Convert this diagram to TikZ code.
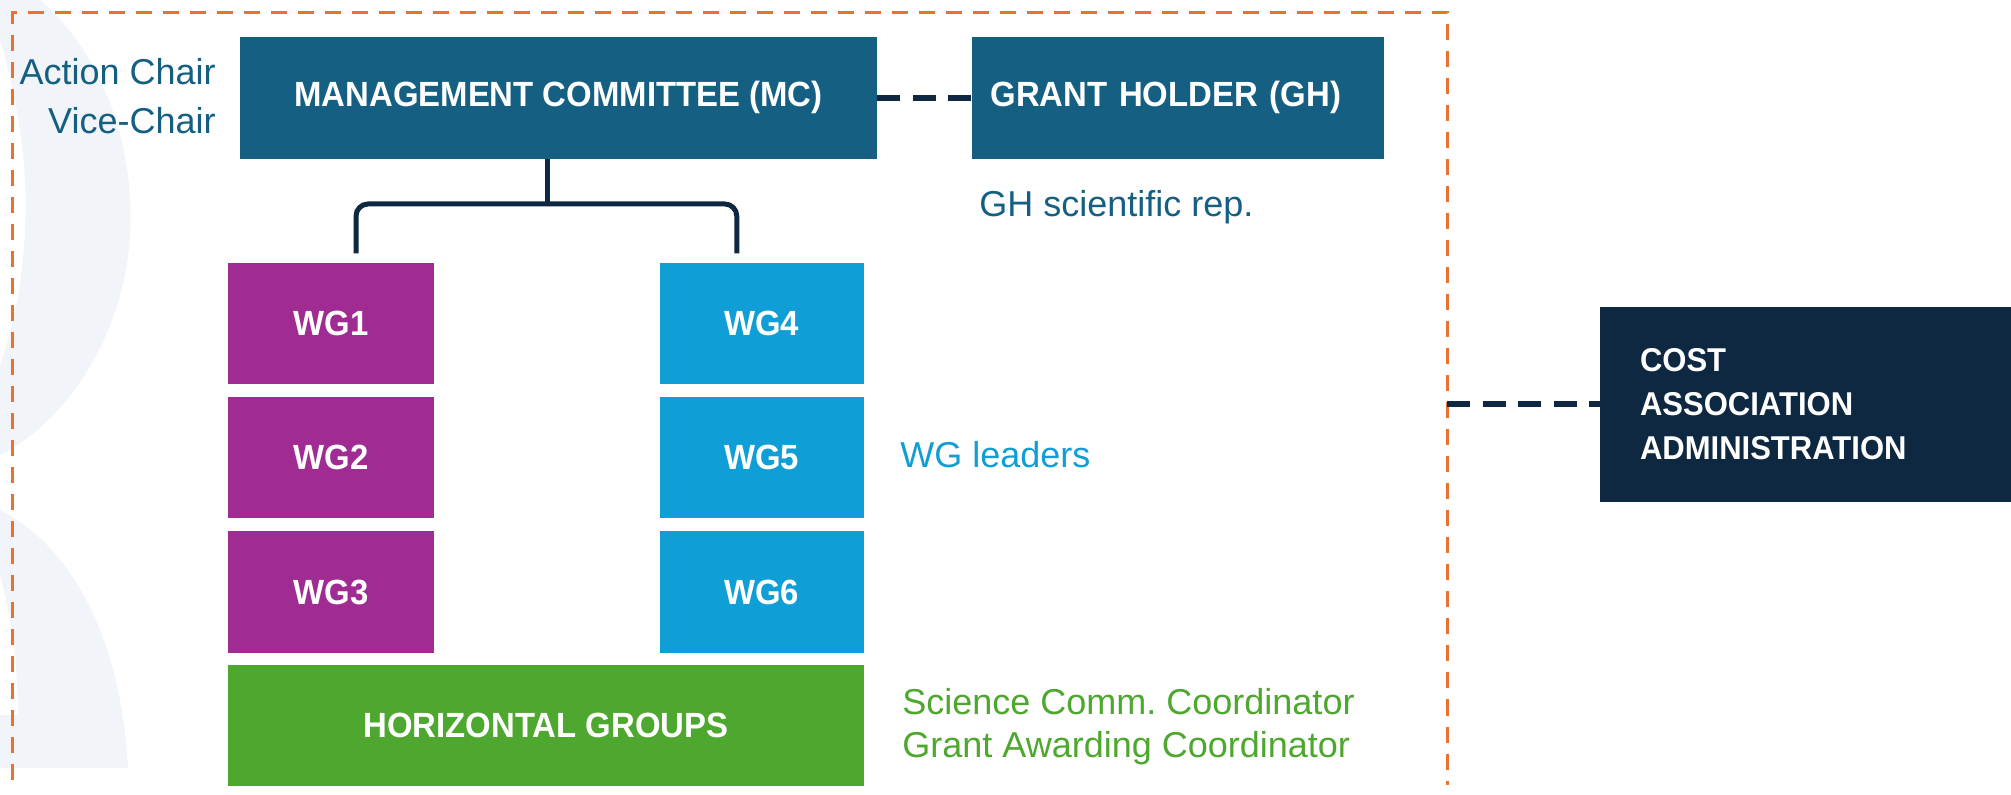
\documentclass[tikz,border=0pt]{standalone}
\usepackage{fontspec}
\setmainfont{Liberation Sans}
\newfontfamily\bfnt{Liberation Sans}[FakeStretch=0.94]
\frenchspacing
\definecolor{mcblue}{HTML}{156082}
\definecolor{wgpurple}{HTML}{A02B93}
\definecolor{wgblue}{HTML}{0F9ED5}
\definecolor{hggreen}{HTML}{4EA72E}
\definecolor{navy}{HTML}{0E2841}
\definecolor{frameorange}{HTML}{E97132}
\definecolor{bgshade}{HTML}{F1F4F8}
\tikzset{
  box/.style={rectangle, inner sep=0pt, text=white, align=center,
    font=\bfnt\bfseries\fontsize{17.5pt}{21pt}\selectfont},
  lbl/.style={inner sep=0pt, font=\fontsize{18pt}{22pt}\selectfont},
  conn/.style={draw=navy, line width=2.5pt},
  link/.style={draw=navy, line width=3pt, dash pattern=on 11.5pt off 6.25pt},
  frame/.style={draw=frameorange, line width=1.5pt, dash pattern=on 8pt off 5.5pt},
}
\begin{document}
\begin{tikzpicture}[x=0.5pt,y=-0.5pt]
\useasboundingbox (0,0) rectangle (2011,795);
% background shapes
\fill[bgshade] (40,0) .. controls (110,60) and (135,160) .. (130,235)
  .. controls (125,330) and (70,420) .. (0,455) -- (0,0) -- cycle;
\fill[white] (0,40) .. controls (20,110) and (28,170) .. (25,230)
  .. controls (22,290) and (12,330) .. (0,365) -- cycle;
\fill[bgshade] (0,510) .. controls (60,540) and (120,620) .. (128,768) -- (0,768) -- cycle;
\fill[white] (0,575) .. controls (12,620) and (18,670) .. (18,715) -- (0,715) -- cycle;
% frame
\draw[frame] (12.5,780) -- (12.5,12.5) -- (1447,12.5) -- (1447,785);
\coordinate (FR) at (1447,404.5);
% boxes
\node[box, fill=mcblue, minimum width=318.5pt, minimum height=60.85pt] (MC) at (558.5,97.85) {MANAGEMENT COMMITTEE (MC)};
\node[box, fill=mcblue, minimum width=206pt, minimum height=60.85pt, inner xsep=9.3pt, text width=187.4pt, align=left] (GH) at (1178,97.85) {GRANT HOLDER (GH)};
\node[box, fill=wgpurple, minimum width=103pt, minimum height=60.5pt] (WG1) at (331,323.4) {WG1};
\node[box, fill=wgpurple, minimum width=103pt, minimum height=60.5pt] (WG2) at (331,457.5) {WG2};
\node[box, fill=wgpurple, minimum width=103pt, minimum height=60.5pt] (WG3) at (331,592) {WG3};
\node[box, fill=wgblue, minimum width=102.25pt, minimum height=60.5pt] (WG4) at (761.75,323.4) {WG4};
\node[box, fill=wgblue, minimum width=102.25pt, minimum height=60.5pt] (WG5) at (761.75,457.5) {WG5};
\node[box, fill=wgblue, minimum width=102.25pt, minimum height=60.5pt] (WG6) at (761.75,592) {WG6};
\node[box, fill=hggreen, minimum width=318pt, minimum height=60.5pt] (HG) at (546,725.4) {HORIZONTAL GROUPS};
\node[box, fill=navy, minimum height=97.5pt, inner xsep=20pt, text width=165.5pt, align=left,
  font=\bfnt\bfseries\fontsize{16.5pt}{22pt}\selectfont] (COST) at (1805.5,404.5) {COST\\ASSOCIATION\\ADMINISTRATION};
% connectors
\coordinate (J) at (547,204);
\draw[conn] (MC.south -| J) -- (J);
\draw[conn, rounded corners=6pt] ([xshift=12.5pt,yshift=4.5pt]WG1.north) |- (J) -| ([xshift=-12.5pt,yshift=4.5pt]WG4.north);
\draw[link] (MC.east) -- (GH.west);
\draw[link] (FR) -- (COST.west);
% labels
\node[lbl, text=mcblue, anchor=base east] (ac) at (216,85) {Action Chair};
\node[lbl, text=mcblue, anchor=base east] (vc) at (216,134) {Vice-Chair};
\node[lbl, text=mcblue, anchor=base west] (ghs) at (979,217) {GH scientific rep.};
\node[lbl, text=wgblue, anchor=base west] (wgl) at (900,468) {WG leaders};
\node[lbl, text=hggreen, anchor=base west] (scc) at (902,714) {Science Comm. Coordinator};
\node[lbl, text=hggreen, anchor=base west] (gac) at (902,757.6) {Grant Awarding Coordinator};
\end{tikzpicture}
\end{document}
